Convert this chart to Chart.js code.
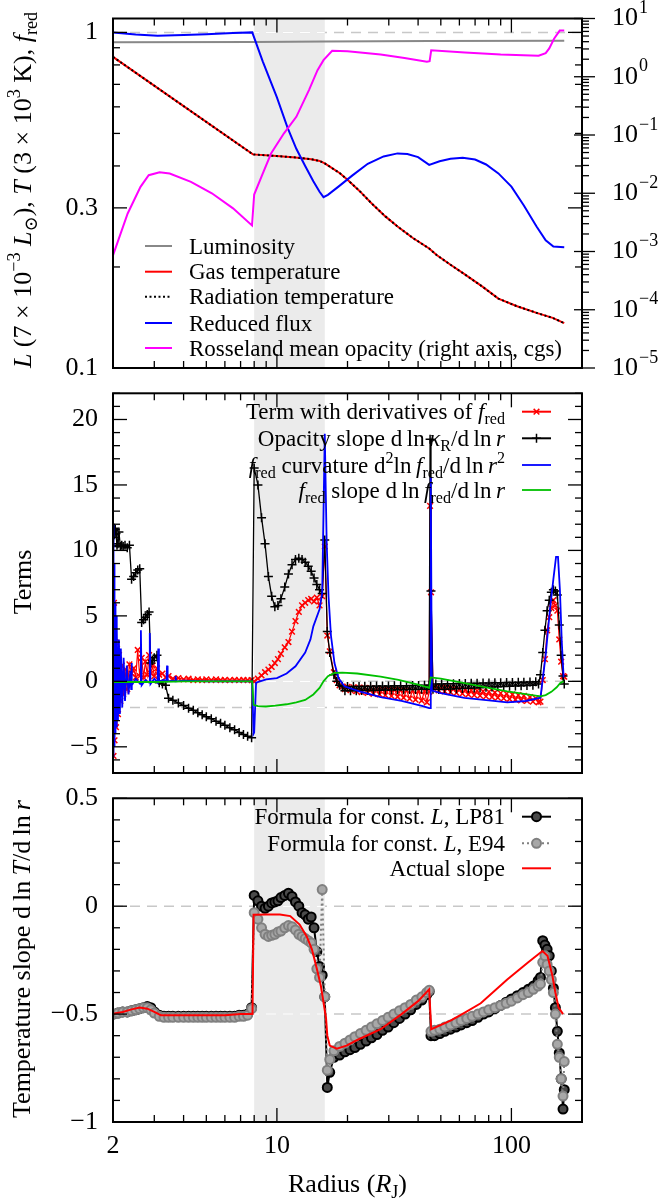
<!DOCTYPE html>
<html>
<head>
<meta charset="utf-8">
<script src="https://cdn.jsdelivr.net/npm/chart.js@4.4.1/dist/chart.umd.min.js"></script>
<style>
  body { margin: 0; background: #fff; }
  #wrap { position: relative; width: 662px; height: 1201px; background: #fff; }
  canvas { position: absolute; left: 0; }
</style>
</head>
<body>
<div id="wrap">
  <canvas id="topChart" width="662" height="385" style="top:0"></canvas>
  <canvas id="midChart" width="662" height="395" style="top:385px"></canvas>
  <canvas id="botChart" width="662" height="421" style="top:780px"></canvas>
</div>
<script>
const SERIF = '"Liberation Serif", "DejaVu Serif", serif';

// ---- shared radius axis ----
const radiusTicks = [2, 10, 100];
const radiusMajor = [10, 100];
const radiusMinor = [3, 4, 5, 6, 7, 8, 9, 20, 30, 40, 50, 60, 70, 80, 90];
const bandFrom = 8, bandTo = 16;

// ---- top panel: L, T, f_red (left, log) and opacity (right, log) ----
const leftTicks = [0.1, 0.3, 1];
const leftMinor = [0.2, 0.4, 0.5, 0.6, 0.7, 0.8, 0.9];
const rightTicks = [1e-5, 1e-4, 1e-3, 1e-2, 1e-1, 1, 10];

const rLum = [2, 8, 16, 45, 168];
const luminosity = [0.934, 0.936, 0.939, 0.942, 0.945];

const rTemp = [2, 4, 7.9, 10, 12, 14, 15.2, 16, 17, 18.5, 20, 22.5, 25.5, 29, 32.7, 38, 44.6, 48, 55, 63.3, 75, 88, 105, 128, 150, 168];
const gasTemp = [0.845, 0.603, 0.433, 0.428, 0.424, 0.419, 0.414, 0.407, 0.396, 0.381, 0.364, 0.337, 0.308, 0.283, 0.264, 0.244, 0.227, 0.217, 0.203, 0.19, 0.175, 0.161, 0.153, 0.146, 0.141, 0.136];
const radTemp = [0.845, 0.603, 0.433, 0.428, 0.424, 0.419, 0.414, 0.407, 0.396, 0.381, 0.364, 0.337, 0.308, 0.283, 0.264, 0.244, 0.227, 0.217, 0.203, 0.19, 0.175, 0.161, 0.153, 0.146, 0.141, 0.136];

const rFlux = [2, 2.5, 3.1, 4, 5, 6.5, 7.85, 8.7, 10, 11.1, 12.1, 13.2, 14.3, 15.2, 15.8, 16.5, 18.3, 21, 24.4, 28.5, 32.7, 36, 40, 44.6, 49.4, 55, 62, 70, 78, 88, 100, 113, 128, 140, 151, 168];
const reducedFlux = [1.0, 0.985, 0.978, 0.982, 0.988, 0.995, 1.0, 0.82, 0.64, 0.52, 0.45, 0.40, 0.36, 0.335, 0.323, 0.328, 0.347, 0.375, 0.406, 0.427, 0.436, 0.434, 0.425, 0.403, 0.413, 0.42, 0.423, 0.418, 0.404, 0.38, 0.347, 0.305, 0.264, 0.24, 0.23, 0.229];

const rOpac = [2, 2.31, 2.62, 2.84, 3.16, 3.49, 4.3, 5.28, 6.5, 7.83, 8.0, 8.7, 9.44, 10.7, 12.1, 13.7, 14.9, 15.8, 17.2, 20, 27.7, 35, 43.6, 44.8, 45.5, 63.3, 90, 130.6, 140, 145, 152, 160.7, 168];
const opacity = [8.6e-4, 4.5e-3, 0.0129, 0.0204, 0.023, 0.0218, 0.0157, 0.01, 5.5e-3, 2.8e-3, 0.0095, 0.0218, 0.048, 0.106, 0.205, 0.59, 1.3, 1.93, 2.8, 2.75, 2.4, 2.1, 1.81, 1.85, 2.85, 2.6, 2.4, 2.3, 2.55, 3.07, 4.5, 6.2, 6.2];

// ---- middle panel: terms ----
const termTicks = [-5, 0, 5, 10, 15, 20];
const rTerms = [
  2.0, 2.01, 2.02, 2.03, 2.045, 2.06, 2.08, 2.1, 2.12, 2.15, 2.18, 2.21, 2.25, 2.3, 2.35, 2.4, 2.45, 2.5, 2.55, 2.6,
  2.65, 2.7, 2.75, 2.8, 2.85, 2.9, 2.95, 3.0, 3.08, 3.15, 3.25, 3.35, 3.45, 3.6, 3.8, 4.0, 4.2, 4.4, 4.6, 4.8,
  5.0, 5.25, 5.5, 5.75, 6.0, 6.3, 6.6, 6.9, 7.2, 7.5, 7.8,
  8.0, 8.3, 8.6, 8.9, 9.2, 9.5, 9.8, 10.1, 10.4, 10.8, 11.2, 11.6, 12.0, 12.4, 12.8, 13.2, 13.6, 14.0, 14.4, 14.8,
  15.2, 15.6, 16.0, 16.4, 16.8,
  17.5, 18.0, 18.5, 19.0, 19.5, 20.0, 20.6, 21.2, 21.8, 22.4, 23.0, 23.7, 24.4, 25.1, 25.8, 26.6, 27.4, 28.2, 29.0, 29.9,
  30.8, 31.7, 32.7, 33.7, 34.7, 35.7, 36.8, 37.9, 39.0, 40.2, 41.4, 42.6, 43.6, 44.6, 45.0,
  45.4, 46.3, 47.6, 49, 50.4, 51.9, 53.4, 55, 56.6, 58.3, 60, 61.8, 63.6, 65.5, 67.4, 69.4, 71.4, 73.5, 75.7, 77.9,
  80.2, 82.6, 85, 87.5, 90, 92.7, 95.4, 98.2, 101, 104, 107, 110, 113, 116.5, 120, 123.5, 127, 130.5,
  133, 136, 139, 142, 145, 148, 151, 154, 157, 160, 163, 166, 168
];
const opacitySlope = [
  10.3, 11.5, 11.7, 11.2, 11.6, 11.3, 10.4, 10.5, 11.4, 10.3, 10.4, 10.3, 10.4, 10.2, 10.4, 7.8, 8.0, 8.3, 8.5, 8.6,
  4.5, 4.7, 4.9, 5.1, 5.3, 1.4, 1.6, 1.8, 2.0, -0.1, -0.2, -0.3, -1.3, -1.45, -1.65, -1.85, -2.05, -2.2, -2.4, -2.55,
  -2.7, -2.85, -3.05, -3.2, -3.35, -3.55, -3.7, -3.9, -4.05, -4.2, -4.3,
  16.3, 15.0, 12.5, 10.5, 8.0, 6.5, 5.7, 5.8, 6.3, 7.2, 8.2, 8.9, 9.3, 9.4, 9.3, 9.1, 8.8, 8.4, 7.9, 7.4,
  7.0, 6.7, 10.8, 3.8, 2.2,
  0.5, 0.0, -0.3, -0.4, -0.72, -0.4, -0.72, -0.39, -0.71, -0.39, -0.7, -0.38, -0.7, -0.37, -0.69, -0.36, -0.68, -0.36, -0.67, -0.35,
  -0.66, -0.34, -0.65, -0.33, -0.64, -0.33, -0.63, -0.32, -0.62, -0.31, -0.61, -0.3, -0.6, -0.3, 18.5,
  6.9, -0.6, -0.2, -0.62, -0.2, -0.6, -0.19, -0.58, -0.18, -0.56, -0.17, -0.54, -0.16, -0.52, -0.15, -0.5, -0.14, -0.48, -0.13, -0.46,
  -0.12, -0.44, -0.11, -0.42, -0.1, -0.4, -0.09, -0.38, -0.08, -0.36, -0.07, -0.34, -0.06, -0.32, -0.05, -0.3, -0.04, -0.2,
  0.5, 2.2, 3.9, 5.4, 6.2, 6.8, 7.0, 6.9, 6.6, 4.3, 2.0, 0.4, -0.2
];
const fredTerm = [
  4.2, -5.7, 6.0, -4.5, 3.0, -3.5, 2.5, -2.5, 2.0, -1.5, 1.2, -1.0, 0.9, -0.6, 1.3, 0.6, 1.0, 0.3, 2.4, 0.4,
  1.8, 0.3, 1.5, 0.5, 2.0, 0.6, 1.2, 0.4, 1.0, 0.5, 0.6, 0.3, 0.4, 0.2, 0.25, 0.15, 0.2, 0.1, 0.15, 0.1,
  0.15, 0.1, 0.15, 0.1, 0.12, 0.1, 0.12, 0.1, 0.12, 0.1, 0.1,
  0.0, 0.2, 0.45, 0.7, 0.9, 1.1, 1.4, 1.7, 2.1, 2.6, 3.0, 3.8, 4.6, 5.3, 5.8, 6.0, 6.2, 6.3, 6.1, 6.4,
  5.8, 6.5, 10.3, 3.5, 2.3,
  0.7, 0.1, -0.3, -0.4, -0.6, -0.42, -0.68, -0.45, -0.75, -0.47, -0.82, -0.5, -0.88, -0.52, -0.95, -0.55, -1.0, -0.58, -1.06, -0.6,
  -1.12, -0.62, -1.18, -0.65, -1.25, -0.67, -1.32, -0.7, -1.4, -0.72, -1.48, -0.75, -1.6, -0.8, 13.4,
  6.8, -0.5, -0.4, -0.7, -0.45, -0.76, -0.5, -0.82, -0.55, -0.88, -0.6, -0.94, -0.64, -1.0, -0.68, -1.05, -0.72, -1.1, -0.76, -1.15,
  -0.8, -1.2, -0.85, -1.25, -0.9, -1.3, -0.95, -1.35, -1.0, -1.4, -1.05, -1.45, -1.1, -1.5, -1.2, -1.55, -1.3, -1.6,
  -1.55, 0.1, 1.7, 3.9, 4.9, 5.6, 6.2, 5.8, 5.4, 3.2, 1.5, 0.4, 0.35
];
const rCurv = [
  2.0, 2.004, 2.008, 2.012, 2.016, 2.02, 2.025, 2.03, 2.035, 2.04, 2.05, 2.06, 2.07, 2.08, 2.1, 2.12, 2.14, 2.16, 2.19, 2.22,
  2.25, 2.29, 2.33, 2.37, 2.39, 2.4, 2.41, 2.5, 2.61, 2.63, 2.65, 2.75, 2.85, 2.87, 2.89, 3.0, 3.1, 3.12, 3.14, 3.3,
  3.38, 3.4, 3.42, 3.6, 3.68, 3.7, 3.72, 4.0, 5, 6, 7.85, 7.95, 8.0, 8.15, 9.0, 10.0, 11.0, 12.0, 13.2, 13.9,
  14.3, 15.2, 15.6, 16.0, 16.3, 16.6, 17.0, 17.6, 18.3, 19.4, 22.5, 27.7, 34, 41.9, 44.6, 45.0, 45.3, 45.8, 50, 63,
  80, 96, 115, 133, 140, 146, 151, 155, 158, 161, 164, 167
];
const fredCurvature = [
  0, 12, -5.8, 10.5, -5.5, 9, -5, 7.5, -4.5, 6, -4, 5, -3.5, 4.2, -3, 3.2, -2.5, 2.5, -2, 1.8,
  -1.5, 1.2, -1, 0.8, -0.6, 1.4, -0.3, 0.2, -0.2, 3.9, -0.3, 0.1, -0.1, 3.7, -0.2, 0.2, -0.1, 2.5, 0, 0.1,
  0, 1.2, 0, 0.05, 0, 0.4, 0, 0.05, 0, 0, 0, -4.0, -3.9, -0.1, 0.15, 0.25, 0.6, 1.15, 2.2, 3.2,
  4.2, 5.5, 6.75, 18.9, 10.6, 6.5, 3.5, 1.4, 0.25, -0.38, -0.76, -1.2, -1.5, -1.9, -2.05, -2.05, 15.6, -0.7, -0.9, -1.27,
  -1.45, -1.6, -1.5, -1.25, 2.0, 5.5, 7.8, 9.5, 9.5, 7.0, 3.0, 0.3
];
const rSlopeF = [2, 3, 4, 7.85, 7.95, 8.3, 9, 9.84, 11, 12.1, 13.2, 14.3, 15.2, 15.8, 16.5, 17.6, 19, 22, 27.7, 33, 40, 44.6, 45.3, 50, 63, 80, 96, 115, 133, 140, 148, 156, 162, 167];
const fredSlope = [-0.05, -0.05, 0, 0, -1.8, -1.9, -1.92, -1.86, -1.75, -1.6, -1.42, -1.0, -0.5, 0, 0.4, 0.64, 0.66, 0.6, 0.36, 0.12, -0.25, -0.5, 0.3, 0.2, -0.13, -0.5, -0.76, -0.98, -1.15, -1.05, -0.8, -0.45, -0.1, 0];

// ---- bottom panel: temperature slope ----
const slopeTicks = [-1, -0.5, 0, 0.5];
const rSlope = [
  2.0, 2.1, 2.2, 2.3, 2.4, 2.5, 2.6, 2.7, 2.8, 2.9, 3.0, 3.15, 3.3, 3.45, 3.6, 3.8, 4.0, 4.2, 4.4, 4.6,
  4.8, 5.0, 5.25, 5.5, 5.75, 6.0, 6.3, 6.6, 6.9, 7.2, 7.5, 7.8,
  8.0, 8.3, 8.6, 8.9, 9.2, 9.5, 9.8, 10.1, 10.4, 10.8, 11.2, 11.6, 12.0, 12.4, 12.8, 13.2, 13.6, 14.0, 14.4, 14.8,
  15.2, 15.6, 16.0, 16.4, 16.8,
  17.5, 18.5, 19.5, 20.5, 21.5, 22.7, 24, 25.3, 26.7, 28.2, 29.8, 31.5, 33.3, 35.2, 37.2, 39.3, 41.5, 43.5, 44.6,
  45.4, 47, 49.5, 52, 55, 58, 61, 64.5, 68, 72, 76, 80, 85, 90, 95, 100, 106, 112, 118, 124, 130, 133,
  136, 139, 142, 145, 148, 151, 154, 157, 160, 163, 166, 168
];
const slopeLP81 = [
  -0.5, -0.495, -0.49, -0.49, -0.485, -0.48, -0.475, -0.47, -0.465, -0.47, -0.49, -0.505, -0.51, -0.51, -0.51, -0.51, -0.51, -0.51, -0.51, -0.51,
  -0.51, -0.51, -0.51, -0.51, -0.51, -0.51, -0.51, -0.51, -0.505, -0.505, -0.5, -0.47,
  0.05, 0.025, 0.0, -0.01, 0.0, 0.015, 0.02, 0.025, 0.04, 0.05, 0.06, 0.045, 0.02, 0.0, -0.03, -0.04, -0.06, -0.05, -0.1, -0.21,
  -0.28, -0.32, -0.42, -0.84, -0.77,
  -0.7, -0.69, -0.675, -0.665, -0.655, -0.64, -0.625, -0.61, -0.595, -0.575, -0.56, -0.54, -0.52, -0.5, -0.48, -0.455, -0.435, -0.41, -0.395,
  -0.6, -0.6, -0.59, -0.58, -0.57, -0.56, -0.55, -0.54, -0.53, -0.515, -0.5, -0.49, -0.475, -0.46, -0.445, -0.43, -0.415, -0.4, -0.385, -0.37, -0.345, -0.33,
  -0.16, -0.18, -0.2, -0.23, -0.3, -0.38, -0.47, -0.58, -0.68, -0.8, -0.94, -0.85
];
const slopeE94 = [
  -0.5, -0.495, -0.49, -0.49, -0.485, -0.48, -0.475, -0.47, -0.47, -0.48, -0.495, -0.51, -0.515, -0.515, -0.515, -0.515, -0.515, -0.515, -0.515, -0.515,
  -0.515, -0.515, -0.515, -0.515, -0.515, -0.515, -0.515, -0.515, -0.51, -0.51, -0.505, -0.475,
  -0.03, -0.06, -0.1, -0.13, -0.14, -0.135, -0.13, -0.12, -0.115, -0.1, -0.09, -0.095, -0.11, -0.13, -0.14, -0.15, -0.16, -0.17, -0.2, -0.29,
  -0.33, 0.077, -0.42, -0.76, -0.71,
  -0.67, -0.65, -0.635, -0.62, -0.605, -0.59, -0.575, -0.56, -0.545, -0.53, -0.515, -0.5, -0.485, -0.47, -0.455, -0.435, -0.42, -0.4, -0.39,
  -0.58, -0.575, -0.57, -0.56, -0.55, -0.54, -0.53, -0.52, -0.51, -0.5, -0.49, -0.48, -0.47, -0.46, -0.45, -0.44, -0.425, -0.41, -0.4, -0.385, -0.37, -0.36,
  -0.26, -0.23, -0.27, -0.3, -0.34, -0.4, -0.5, -0.64, -0.7, -0.8, -0.88, -0.72
];
const rActual = [2.0, 2.2, 2.4, 2.6, 2.8, 3.0, 3.2, 4.0, 5.0, 6.0, 7.0, 7.87, 7.95, 9.0, 10.3, 11.4, 12.5, 13.4, 14.1, 14.8, 15.4, 15.8, 16.2, 16.4, 16.8, 18.0, 19.8, 22, 27.7, 34, 40, 44.6, 45.5, 55, 63, 74, 96, 118, 135.6, 142.5, 149.4, 154, 158.9, 166];
const actualSlope = [-0.498, -0.49, -0.478, -0.47, -0.475, -0.49, -0.505, -0.505, -0.505, -0.505, -0.5, -0.5, -0.04, -0.038, -0.038, -0.046, -0.085, -0.14, -0.2, -0.29, -0.37, -0.445, -0.52, -0.6, -0.646, -0.66, -0.646, -0.62, -0.57, -0.5, -0.44, -0.385, -0.57, -0.53, -0.494, -0.45, -0.34, -0.26, -0.208, -0.23, -0.32, -0.4, -0.47, -0.5];

// ---- helpers ----
function pts(xs, ys) { return xs.map((x, i) => ({ x: x, y: ys[i] })); }

function line(ctx, x1, y1, x2, y2) {
  ctx.beginPath(); ctx.moveTo(x1, y1); ctx.lineTo(x2, y2); ctx.stroke();
}

// parts: [text, style] with style n / i / sub / sup
function drawRich(ctx, parts, x, y, size, align) {
  const fonts = parts.map(p => (p[1] === 'i' ? 'italic ' : '') +
    ((p[1] === 'sub' || p[1] === 'sup') ? size * 0.7 : size) + 'px ' + SERIF);
  let w = 0;
  parts.forEach((p, i) => { ctx.font = fonts[i]; w += ctx.measureText(p[0]).width; });
  let cx = align === 'right' ? x - w : align === 'center' ? x - w / 2 : x;
  ctx.textAlign = 'left';
  ctx.textBaseline = 'alphabetic';
  parts.forEach((p, i) => {
    ctx.font = fonts[i];
    const dy = p[1] === 'sub' ? size * 0.22 : p[1] === 'sup' ? -size * 0.42 : 0;
    ctx.fillText(p[0], cx, y + dy);
    cx += ctx.measureText(p[0]).width;
  });
}

function drawRotated(ctx, parts, x, y, size) {
  ctx.save();
  ctx.translate(x, y);
  ctx.rotate(-Math.PI / 2);
  drawRich(ctx, parts, 0, 0, size, 'center');
  ctx.restore();
}

function drawLegend(chart, items) {
  const ctx = chart.ctx;
  items.forEach(it => {
    const ds = chart.data.datasets[it.ds];
    ctx.save();
    if (ds.showLine) {
      ctx.strokeStyle = ds.borderColor;
      ctx.lineWidth = it.lw || ds.borderWidth;
      ctx.setLineDash(ds.borderDash || []);
      line(ctx, it.x0, it.y, it.x1, it.y);
    }
    if (ds.pointRadius) {
      ctx.setLineDash([]);
      ctx.strokeStyle = ds.pointBorderColor;
      ctx.fillStyle = ds.pointBackgroundColor || ds.pointBorderColor;
      ctx.lineWidth = ds.pointBorderWidth;
      Chart.helpers.drawPoint(ctx, { pointStyle: ds.pointStyle, radius: ds.pointRadius, borderWidth: ds.pointBorderWidth, rotation: 0 }, (it.x0 + it.x1) / 2, it.y);
    }
    ctx.restore();
    ctx.fillStyle = '#000';
    drawRich(ctx, it.text, it.tx, it.y + 7.5, 23, it.align);
  });
}

function decor(o) {
  return {
    id: 'decor',
    beforeDatasetsDraw(chart) {
      const { ctx, chartArea: a, scales } = chart;
      const b0 = scales.x.getPixelForValue(bandFrom), b1 = scales.x.getPixelForValue(bandTo);
      ctx.save();
      ctx.fillStyle = '#ebebeb';
      ctx.fillRect(b0, a.top, b1 - b0, a.bottom - a.top);
      ctx.lineWidth = 1.5;
      ctx.setLineDash([10, 7]);
      o.dashed.forEach(v => {
        const py = scales.y.getPixelForValue(v);
        ctx.strokeStyle = '#c8c8c8';
        line(ctx, a.left, py, a.right, py);
        ctx.save();
        ctx.beginPath(); ctx.rect(b0, a.top, b1 - b0, a.bottom - a.top); ctx.clip();
        ctx.strokeStyle = '#ffffff';
        line(ctx, a.left, py, a.right, py);
        ctx.restore();
      });
      ctx.restore();
    },
    afterDraw(chart) {
      const { ctx, chartArea: a, scales } = chart;
      ctx.save();
      ctx.strokeStyle = '#000';
      ctx.lineWidth = 1.3;
      ctx.setLineDash([]);
      const xt = (v, len) => {
        const p = scales.x.getPixelForValue(v);
        line(ctx, p, a.bottom, p, a.bottom - len);
        line(ctx, p, a.top, p, a.top + len);
      };
      radiusMajor.forEach(v => xt(v, 14));
      radiusMinor.forEach(v => xt(v, 7));
      const yt = (v, len) => {
        const p = scales.y.getPixelForValue(v);
        line(ctx, a.left, p, a.left + len, p);
        line(ctx, a.right, p, a.right - len, p);
      };
      o.yMajor.forEach(v => yt(v, 14));
      o.yMinor.forEach(v => yt(v, 7));
      if (o.right) {
        const r = scales.y2;
        rightTicks.forEach(v => {
          const p = r.getPixelForValue(v);
          line(ctx, a.right - 8, p, a.right + 13, p);
        });
        for (let k = -5; k < 1; k++) {
          for (let m = 2; m < 10; m++) {
            const p = r.getPixelForValue(m * Math.pow(10, k));
            line(ctx, a.right, p, a.right + 7, p);
          }
        }
        ctx.fillStyle = '#000';
        rightTicks.forEach(v => {
          const p = r.getPixelForValue(v);
          const e = Math.round(Math.log10(v));
          ctx.font = '26px ' + SERIF;
          ctx.textAlign = 'left';
          ctx.textBaseline = 'middle';
          ctx.fillText('10', 612, p);
          const w = ctx.measureText('10').width;
          ctx.font = '18px ' + SERIF;
          ctx.fillText(e < 0 ? '\u2212' + (-e) : String(e), 612 + w + 1, p - 10);
        });
      }
      ctx.lineWidth = 2;
      ctx.strokeRect(a.left, a.top, a.right - a.left, a.bottom - a.top);
      ctx.restore();

      ctx.save();
      ctx.fillStyle = '#000';
      drawRotated(ctx, o.yTitle, o.yTitleX, o.yTitleY, 26);
      if (o.xTitle) drawRich(ctx, o.xTitle, (a.left + a.right) / 2, o.xTitleY, 26, 'center');
      drawLegend(chart, o.legend);
      ctx.restore();
    }
  };
}

const tickFont = { family: SERIF, size: 26 };
const minusFmt = v => (v < 0 ? '\u2212' + Math.abs(v) : String(v));

function radiusAxis(show) {
  return {
    type: 'logarithmic', min: 2, max: 200, display: show,
    grid: { display: false, drawTicks: false }, border: { display: false },
    afterBuildTicks: s => { s.ticks = radiusTicks.map(v => ({ value: v })); },
    afterFit: s => {
      if (show) s.height = 79;
      s.paddingLeft = 0; s.paddingRight = 0;
    },
    ticks: { color: '#000', font: tickFont, padding: 9, maxRotation: 0, autoSkip: false, callback: v => String(v) }
  };
}

function valueAxis(type, min, max, tickVals, fmt) {
  return {
    type: type, position: 'left', min: min, max: max,
    grid: { display: false, drawTicks: false }, border: { display: false },
    afterBuildTicks: s => { s.ticks = tickVals.map(v => ({ value: v })); },
    afterFit: s => { s.width = 113; s.paddingTop = 0; s.paddingBottom = 0; },
    ticks: { color: '#000', font: tickFont, padding: 15, autoSkip: false, callback: fmt }
  };
}

function baseOptions(pad, scales) {
  return {
    responsive: false, animation: false, devicePixelRatio: 1, events: [],
    layout: { padding: pad },
    plugins: { legend: { display: false }, tooltip: { enabled: false } },
    scales: scales
  };
}

const lineSet = (label, xs, ys, color, extra) => Object.assign({
  label: label, data: pts(xs, ys), showLine: true, borderColor: color, borderWidth: 2,
  pointRadius: 0, tension: 0
}, extra || {});

// ---- top chart ----
new Chart(document.getElementById('topChart'), {
  type: 'scatter',
  data: {
    datasets: [
      lineSet('Luminosity', rLum, luminosity, '#888888', { order: 5 }),
      lineSet('Gas temperature', rTemp, gasTemp, '#ff0000', { order: 4 }),
      lineSet('Radiation temperature', rTemp, radTemp, '#000000', { order: 3, borderDash: [2, 2.5] }),
      lineSet('Reduced flux', rFlux, reducedFlux, '#0000ff', { order: 2 }),
      lineSet('Rosseland mean opacity (right axis, cgs)', rOpac, opacity, '#ff00ff', { order: 1, yAxisID: 'y2' })
    ]
  },
  options: baseOptions({ top: 18.5, bottom: 17, left: 0, right: 0 }, {
    x: radiusAxis(false),
    y: valueAxis('logarithmic', 0.1, 1.1, leftTicks, v => String(v)),
    y2: {
      type: 'logarithmic', position: 'right', min: 1e-5, max: 10,
      grid: { display: false, drawTicks: false }, border: { display: false },
      ticks: { display: false },
      afterFit: s => { s.width = 80; s.paddingTop = 0; s.paddingBottom = 0; }
    }
  }),
  plugins: [decor({
    dashed: [1],
    yMajor: leftTicks, yMinor: leftMinor, right: true,
    yTitle: [['L', 'i'], [' (7 \u00d7 10', 'n'], ['\u22123', 'sup'], [' ', 'n'], ['L', 'i'], ['\u2299', 'sub'], ['), ', 'n'],
             ['T', 'i'], [' (3 \u00d7 10', 'n'], ['3', 'sup'], [' K), ', 'n'], ['f', 'i'], ['red', 'sub']],
    yTitleX: 31, yTitleY: 190,
    legend: [
      { ds: 0, y: 246, x0: 145, x1: 172, tx: 189, align: 'left', text: [['Luminosity', 'n']] },
      { ds: 1, y: 271.7, x0: 145, x1: 172, tx: 189, align: 'left', text: [['Gas temperature', 'n']] },
      { ds: 2, y: 296.7, x0: 145, x1: 172, tx: 189, align: 'left', text: [['Radiation temperature', 'n']] },
      { ds: 3, y: 323, x0: 145, x1: 172, tx: 189, align: 'left', text: [['Reduced flux', 'n']] },
      { ds: 4, y: 348, x0: 145, x1: 172, tx: 189, align: 'left', text: [['Rosseland mean opacity (right axis, cgs)', 'n']] }
    ]
  })]
});

// ---- middle chart ----
const termMinor = [];
for (let v = -7; v <= 22; v++) if (v % 5 !== 0) termMinor.push(v);

new Chart(document.getElementById('midChart'), {
  type: 'scatter',
  data: {
    datasets: [
      lineSet('Term with derivatives of f_red', rTerms, fredTerm, '#ff0000', {
        order: 4, borderWidth: 1.2, pointStyle: 'crossRot', pointRadius: 4,
        pointBorderColor: '#ff0000', pointBorderWidth: 1.5
      }),
      lineSet('Opacity slope', rTerms, opacitySlope, '#000000', {
        order: 3, borderWidth: 1.3, pointStyle: 'cross', pointRadius: 4.5,
        pointBorderColor: '#000000', pointBorderWidth: 1.5
      }),
      lineSet('f_red curvature', rCurv, fredCurvature, '#0000ff', { order: 2, borderWidth: 1.8 }),
      lineSet('f_red slope', rSlopeF, fredSlope, '#00c000', { order: 1, borderWidth: 1.8 })
    ]
  },
  options: baseOptions({ top: 8.3, bottom: 7, left: 0, right: 80 }, {
    x: radiusAxis(false),
    y: valueAxis('linear', -7, 22, termTicks, minusFmt)
  }),
  plugins: [decor({
    dashed: [0, -2],
    yMajor: termTicks, yMinor: termMinor,
    yTitle: [['Terms', 'n']], yTitleX: 31, yTitleY: 197,
    legend: [
      { ds: 0, y: 26.7, x0: 522, x1: 551, tx: 505, align: 'right', lw: 2,
        text: [['Term with derivatives of ', 'n'], ['f', 'i'], ['red', 'sub']] },
      { ds: 1, y: 53.3, x0: 522, x1: 551, tx: 505, align: 'right', lw: 2,
        text: [['Opacity slope d\u2009ln\u2009', 'n'], ['\u03ba', 'i'], ['R', 'sub'], ['/d\u2009ln\u2009', 'n'], ['r', 'i']] },
      { ds: 2, y: 80, x0: 522, x1: 551, tx: 505, align: 'right',
        text: [['f', 'i'], ['red', 'sub'], [' curvature d', 'n'], ['2', 'sup'], ['ln\u2009', 'n'], ['f', 'i'], ['red', 'sub'],
               ['/d\u2009ln\u2009', 'n'], ['r', 'i'], ['2', 'sup']] },
      { ds: 3, y: 105, x0: 522, x1: 551, tx: 505, align: 'right',
        text: [['f', 'i'], ['red', 'sub'], [' slope d\u2009ln\u2009', 'n'], ['f', 'i'], ['red', 'sub'], ['/d\u2009ln\u2009', 'n'], ['r', 'i']] }
    ]
  })]
});

// ---- bottom chart ----
const slopeMinor = [];
for (let v = -10; v <= 5; v++) if (v % 5 !== 0) slopeMinor.push(v / 10);

new Chart(document.getElementById('botChart'), {
  type: 'scatter',
  data: {
    datasets: [
      lineSet('Formula for const. L, LP81', rSlope, slopeLP81, '#000000', {
        order: 3, borderWidth: 2, pointStyle: 'circle', pointRadius: 4.5,
        pointBorderColor: '#000000', pointBackgroundColor: '#4a4a4a', pointBorderWidth: 2
      }),
      lineSet('Formula for const. L, E94', rSlope, slopeE94, '#808080', {
        order: 2, borderWidth: 2, borderDash: [2, 3], pointStyle: 'circle', pointRadius: 4.5,
        pointBorderColor: '#808080', pointBackgroundColor: '#a8a8a8', pointBorderWidth: 2
      }),
      lineSet('Actual slope', rActual, actualSlope, '#ff0000', { order: 1 })
    ]
  },
  options: baseOptions({ top: 18.3, bottom: 0, left: 0, right: 80 }, {
    x: radiusAxis(true),
    y: valueAxis('linear', -1, 0.5, slopeTicks, minusFmt)
  }),
  plugins: [decor({
    dashed: [0, -0.5],
    yMajor: slopeTicks, yMinor: slopeMinor,
    yTitle: [['Temperature slope d\u2009ln\u2009', 'n'], ['T', 'i'], ['/d\u2009ln\u2009', 'n'], ['r', 'i']],
    yTitleX: 30, yTitleY: 179,
    xTitle: [['Radius (', 'n'], ['R', 'i'], ['J', 'sub'], [')', 'n']], xTitleY: 412,
    legend: [
      { ds: 0, y: 36.7, x0: 522, x1: 551, tx: 505, align: 'right',
        text: [['Formula for const. ', 'n'], ['L', 'i'], [', LP81', 'n']] },
      { ds: 1, y: 63.3, x0: 522, x1: 551, tx: 505, align: 'right',
        text: [['Formula for const. ', 'n'], ['L', 'i'], [', E94', 'n']] },
      { ds: 2, y: 88.3, x0: 522, x1: 551, tx: 505, align: 'right', text: [['Actual slope', 'n']] }
    ]
  })]
});
</script>
</body>
</html>
